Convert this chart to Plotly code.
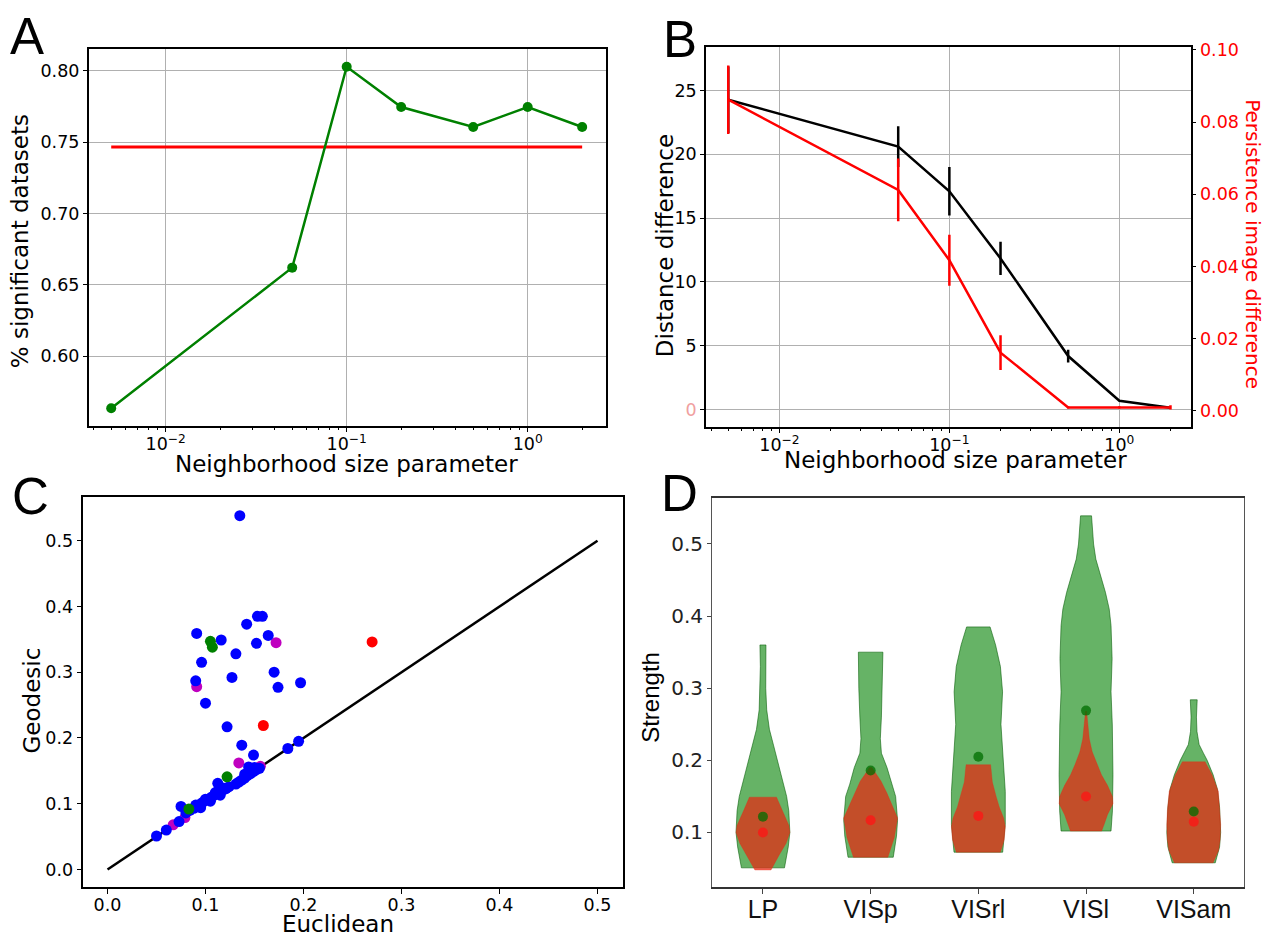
import plotly.graph_objects as go

# ---------------- data ----------------
# Panel A
nbhd = [0.005, 0.05, 0.1, 0.2, 0.5, 1.0, 2.0]
pct_sig = [0.5634, 0.6620, 0.8028, 0.7746, 0.7606, 0.7746, 0.7606]
pct_sig_baseline = 0.7465

# Panel B
dist_diff = [24.27, 20.6, 17.1, 11.84, 4.2, 0.7, 0.15]
dist_err = [2.6, 1.6, 1.9, 1.3, 0.5, 0.0, 0.0]
pers_diff = [0.0862, 0.0612, 0.0417, 0.0161, 0.0009, 0.0009, 0.0009]
pers_err = [0.0095, 0.0087, 0.0071, 0.0048, 0.0003, 0.0003, 0.0006]

# Panel C
blue_x = [0.135, 0.153, 0.158, 0.142, 0.091, 0.116, 0.164, 0.152, 0.131, 0.096, 0.170, 0.127, 0.090,
          0.174, 0.197, 0.100, 0.122, 0.137, 0.149, 0.195, 0.184, 0.1125, 0.075, 0.050, 0.060, 0.073,
          0.080, 0.084, 0.088, 0.091, 0.094, 0.097, 0.100, 0.103, 0.106, 0.109, 0.112, 0.115, 0.118,
          0.121, 0.124, 0.131, 0.134, 0.137, 0.140, 0.143, 0.146, 0.149, 0.152, 0.155, 0.144,
          0.090, 0.100, 0.110, 0.118, 0.095, 0.105, 0.115, 0.140, 0.150]
blue_y = [0.538, 0.385, 0.385, 0.373, 0.359, 0.349, 0.356, 0.344, 0.328, 0.315, 0.300, 0.292, 0.287,
          0.277, 0.284, 0.253, 0.217, 0.189, 0.174, 0.195, 0.184, 0.131, 0.096, 0.051, 0.060, 0.073,
          0.086, 0.090, 0.093, 0.096, 0.099, 0.102, 0.105, 0.107, 0.110, 0.113, 0.116, 0.118, 0.121,
          0.123, 0.126, 0.130, 0.133, 0.136, 0.139, 0.143, 0.146, 0.149, 0.152, 0.154, 0.156,
          0.098, 0.107, 0.117, 0.124, 0.094, 0.104, 0.113, 0.145, 0.155]
magenta_x = [0.172, 0.091, 0.134, 0.156, 0.067, 0.079]
magenta_y = [0.345, 0.278, 0.162, 0.157, 0.068, 0.079]
green_x = [0.105, 0.107, 0.122, 0.083]
green_y = [0.347, 0.338, 0.141, 0.092]
red_x = [0.270, 0.159]
red_y = [0.346, 0.219]
diag = [0.0, 0.5]

# Panel D
areas = ["LP", "VISp", "VISrl", "VISl", "VISam"]
lp_g_y = [0.360, 0.330, 0.300, 0.270, 0.243, 0.220, 0.200, 0.180, 0.150, 0.130, 0.100, 0.080, 0.051]
lp_g_w = [0.028, 0.024, 0.026, 0.035, 0.060, 0.100, 0.135, 0.170, 0.220, 0.240, 0.250, 0.235, 0.200]
lp_r_y = [0.149, 0.130, 0.110, 0.100, 0.085, 0.070, 0.048]
lp_r_w = [0.126, 0.180, 0.240, 0.250, 0.215, 0.155, 0.075]
visp_g_y = [0.350, 0.300, 0.260, 0.230, 0.210, 0.190, 0.167, 0.150, 0.117, 0.095, 0.080, 0.0657]
visp_g_w = [0.114, 0.110, 0.100, 0.090, 0.100, 0.152, 0.194, 0.232, 0.250, 0.240, 0.225, 0.210]
visp_r_y = [0.190, 0.180, 0.171, 0.155, 0.144, 0.120, 0.093, 0.080, 0.0657]
visp_r_w = [0.012, 0.055, 0.097, 0.150, 0.180, 0.250, 0.220, 0.190, 0.160]
visrl_g_y = [0.385, 0.360, 0.330, 0.295, 0.250, 0.200, 0.157, 0.111, 0.0727]
visrl_g_w = [0.109, 0.160, 0.205, 0.225, 0.210, 0.230, 0.250, 0.250, 0.226]
visrl_r_y = [0.194, 0.170, 0.150, 0.135, 0.120, 0.108, 0.090, 0.080, 0.0727]
visrl_r_w = [0.114, 0.130, 0.165, 0.195, 0.235, 0.250, 0.240, 0.220, 0.205]
visl_g_y = [0.539, 0.500, 0.479, 0.455, 0.433, 0.410, 0.387, 0.341, 0.295, 0.249, 0.180, 0.130, 0.102]
visl_g_w = [0.051, 0.070, 0.091, 0.140, 0.180, 0.215, 0.232, 0.242, 0.232, 0.244, 0.250, 0.245, 0.232]
visl_r_y = [0.268, 0.250, 0.230, 0.212, 0.195, 0.180, 0.165, 0.150, 0.140, 0.125, 0.112, 0.102]
visl_r_w = [0.005, 0.015, 0.030, 0.057, 0.100, 0.143, 0.200, 0.245, 0.250, 0.200, 0.170, 0.145]
visam_g_y = [0.284, 0.260, 0.240, 0.222, 0.210, 0.200, 0.180, 0.160, 0.135, 0.100, 0.080, 0.058]
visam_g_w = [0.032, 0.025, 0.030, 0.050, 0.090, 0.125, 0.180, 0.220, 0.240, 0.250, 0.240, 0.200]
visam_r_y = [0.198, 0.180, 0.157, 0.130, 0.111, 0.090, 0.075, 0.058]
visam_r_w = [0.105, 0.170, 0.228, 0.245, 0.250, 0.245, 0.230, 0.180]
g_mean = [0.122, 0.186, 0.205, 0.269, 0.129]
r_mean = [0.100, 0.117, 0.123, 0.150, 0.115]

# ---------------- figure ----------------
W, H = 1271, 939
def px(x):
    return x / W
def py(y):
    return 1 - y / H

DV = "DejaVu Sans"
LS = "Liberation Sans"
GRID = "#b0b0b0"

fig = go.Figure()

# A
fig.add_trace(go.Scatter(x=[nbhd[0], nbhd[-1]], y=[pct_sig_baseline] * 2, mode="lines",
                         line=dict(color="#ff0000", width=3), xaxis="x", yaxis="y"))
fig.add_trace(go.Scatter(x=nbhd, y=pct_sig, mode="lines+markers",
                         line=dict(color="#008000", width=2.5),
                         marker=dict(color="#008000", size=10), xaxis="x", yaxis="y"))

# B
fig.add_trace(go.Scatter(x=nbhd, y=dist_diff, mode="lines",
                         line=dict(color="black", width=2.5),
                         error_y=dict(type="data", array=dist_err, color="black", thickness=2.5, width=0),
                         xaxis="x2", yaxis="y2"))
fig.add_trace(go.Scatter(x=nbhd, y=pers_diff, mode="lines",
                         line=dict(color="#ff0000", width=2.5),
                         error_y=dict(type="data", array=pers_err, color="#ff0000", thickness=2.5, width=0),
                         xaxis="x2", yaxis="y3"))

# C
fig.add_trace(go.Scatter(x=diag, y=diag, mode="lines", line=dict(color="black", width=2.5),
                         xaxis="x3", yaxis="y4"))
for xs, ys, col in [(magenta_x, magenta_y, "#bf00bf"), (blue_x, blue_y, "#0000ff"),
                    (green_x, green_y, "#008000"), (red_x, red_y, "#ff0000")]:
    fig.add_trace(go.Scatter(x=xs, y=ys, mode="markers",
                             marker=dict(color=col, size=11, line=dict(width=0)),
                             xaxis="x3", yaxis="y4"))

# D
green_profiles = [(lp_g_y, lp_g_w), (visp_g_y, visp_g_w), (visrl_g_y, visrl_g_w),
                  (visl_g_y, visl_g_w), (visam_g_y, visam_g_w)]
red_profiles = [(lp_r_y, lp_r_w), (visp_r_y, visp_r_w), (visrl_r_y, visrl_r_w),
                (visl_r_y, visl_r_w), (visam_r_y, visam_r_w)]

def violin(pos, ys, ws, fill, edge, ew):
    xs = [pos + w for w in ws] + [pos - w for w in reversed(ws)] + [pos + ws[0]]
    yy = list(ys) + list(reversed(ys)) + [ys[0]]
    return go.Scatter(x=xs, y=yy, mode="lines", fill="toself", fillcolor=fill,
                      line=dict(color=edge, width=ew), xaxis="x4", yaxis="y5", hoverinfo="skip")

for i, (ys, ws) in enumerate(green_profiles):
    fig.add_trace(violin(i, ys, ws, "rgba(0,128,0,0.6)", "rgba(0,90,0,0.7)", 0.8))
for i, (ys, ws) in enumerate(red_profiles):
    fig.add_trace(violin(i, ys, ws, "rgba(235,35,15,0.7)", "rgba(235,35,15,0.5)", 0.6))
fig.add_trace(go.Scatter(x=list(range(len(areas))), y=g_mean, mode="markers",
                         marker=dict(color="rgba(0,110,0,0.75)", size=10), xaxis="x4", yaxis="y5"))
fig.add_trace(go.Scatter(x=list(range(len(areas))), y=r_mean, mode="markers",
                         marker=dict(color="rgba(255,20,20,0.75)", size=10), xaxis="x4", yaxis="y5"))

# ---------------- axes ----------------
minor_vals = [m * 10.0 ** e for e in (-3, -2, -1, 0) for m in range(2, 10)]
log_ticks = [0.01, 0.1, 1]
log_text = ["10<sup>\u22122</sup>", "10<sup>\u22121</sup>", "10<sup>0</sup>"]
tickf = dict(family=DV, size=17.5, color="black")

def logx(domain, anchor, rng):
    return dict(domain=domain, anchor=anchor, type="log", range=rng,
                tickmode="array", tickvals=log_ticks, ticktext=log_text, tickfont=tickf,
                showgrid=True, gridcolor=GRID, gridwidth=1, zeroline=False,
                showline=True, linecolor="black", linewidth=1.5, mirror=True,
                ticks="outside", ticklen=5, tickcolor="black", ticklabelstandoff=-3,
                minor=dict(tickmode="array", tickvals=minor_vals, ticks="outside",
                           ticklen=3, tickcolor="black", showgrid=False))

fig.update_layout(
    width=W, height=H, margin=dict(l=0, r=0, t=0, b=0),
    paper_bgcolor="white", plot_bgcolor="white", showlegend=False,
    font=dict(family=DV, color="black"),
    xaxis=logx([px(88.7), px(605.5)], "y", [-2.4254, 0.43]),
    yaxis=dict(domain=[py(421.7), py(42.7)], anchor="x", range=[0.5513, 0.815],
               tickvals=[0.60, 0.65, 0.70, 0.75, 0.80], tickformat=".2f", tickfont=tickf,
               showgrid=True, gridcolor=GRID, gridwidth=1, zeroline=False,
               showline=True, linecolor="black", linewidth=1.5, mirror=True,
               ticks="outside", ticklen=4, tickcolor="black"),
    xaxis2=logx([px(706), px(1190.7)], "y2", [-2.432, 0.42]),
    yaxis2=dict(domain=[py(422.7), py(40.7)], anchor="x2", range=[-1.321, 28.365],
                tickmode="array", tickvals=[0, 5, 10, 15, 20, 25],
                ticktext=["<span style='color:#f0a0a0'>0</span>", "5", "10", "15", "20", "25"],
                tickfont=tickf, showgrid=True, gridcolor=GRID, gridwidth=1, zeroline=False,
                showline=True, linecolor="black", linewidth=1.5,
                ticks="outside", ticklen=4, tickcolor="black"),
    yaxis3=dict(overlaying="y2", side="right", anchor="x2", range=[-0.0044, 0.1007],
                tickvals=[0.0, 0.02, 0.04, 0.06, 0.08, 0.10], tickformat=".2f",
                tickfont=dict(family=DV, size=17.5, color="#ff0000"),
                showgrid=False, zeroline=False, showline=True, linecolor="black", linewidth=1.5,
                ticks="outside", ticklen=4, tickcolor="black"),
    xaxis3=dict(domain=[px(83.4), px(622.7)], anchor="y4", range=[-0.0246, 0.5257],
                tickvals=[0.0, 0.1, 0.2, 0.3, 0.4, 0.5], tickformat=".1f", tickfont=tickf,
                showgrid=False, zeroline=False, showline=True, linecolor="black", linewidth=1.5,
                mirror=True, ticks="outside", ticklen=5, tickcolor="black", ticklabelstandoff=-4),
    yaxis4=dict(domain=[py(886.7), py(493.3)], anchor="x3", range=[-0.0267, 0.567],
                tickvals=[0.0, 0.1, 0.2, 0.3, 0.4, 0.5], tickformat=".1f", tickfont=tickf,
                showgrid=False, zeroline=False, showline=True, linecolor="black", linewidth=1.5,
                mirror=True, ticks="outside", ticklen=5, tickcolor="black"),
    xaxis4=dict(domain=[px(712), px(1243.5)], anchor="y5", range=[-0.473, 4.462],
                tickmode="array", tickvals=list(range(len(areas))), ticktext=areas,
                tickfont=dict(family=LS, size=25, color="#111111"),
                showgrid=False, zeroline=False, showline=True, linecolor="#333333", linewidth=1.5,
                mirror=True, ticks="outside", ticklen=5, tickcolor="#444444", ticklabelstandoff=-6),
    yaxis5=dict(domain=[py(887), py(495)], anchor="x4", range=[0.0239, 0.5633],
                tickvals=[0.1, 0.2, 0.3, 0.4, 0.5], tickformat=".1f",
                tickfont=dict(family=DV, size=20, color="#222222"),
                showgrid=False, zeroline=False, showline=True, linecolor="#555555", linewidth=1,
                mirror=True, ticks="outside", ticklen=4, tickcolor="#444444"),
)

# ---------------- text ----------------
def note(text, x, y, size=23, family=DV, angle=0, color="black", xanchor="center"):
    fig.add_annotation(text=text, x=px(x), y=py(y), xref="paper", yref="paper",
                       showarrow=False, textangle=angle, xanchor=xanchor, yanchor="middle",
                       font=dict(family=family, size=size, color=color))

note("A", 8, 30, size=51, family=LS, xanchor="left")
note("B", 661, 32.5, size=51, family=LS, xanchor="left")
note("C", 10, 493, size=51, family=LS, xanchor="left")
note("D", 659, 490, size=51, family=LS, xanchor="left")

note("Neighborhood size parameter", 346.8, 460)
note("% significant datasets", 20, 236, angle=-90)
note("Distance difference", 665, 241, angle=-90)
note("Persistence image difference", 1253, 239, size=20, angle=90, color="#ff0000")
note("Neighborhood size parameter", 955, 456)
note("Euclidean", 337.8, 924)
note("Geodesic", 31.7, 699, angle=-90)
note("Strength", 651, 696, size=24, family=LS, angle=-90)

fig.write_html("out.html", config={"displayModeBar": False},
               post_script="document.body.style.margin='0';document.body.style.overflow='hidden';")
